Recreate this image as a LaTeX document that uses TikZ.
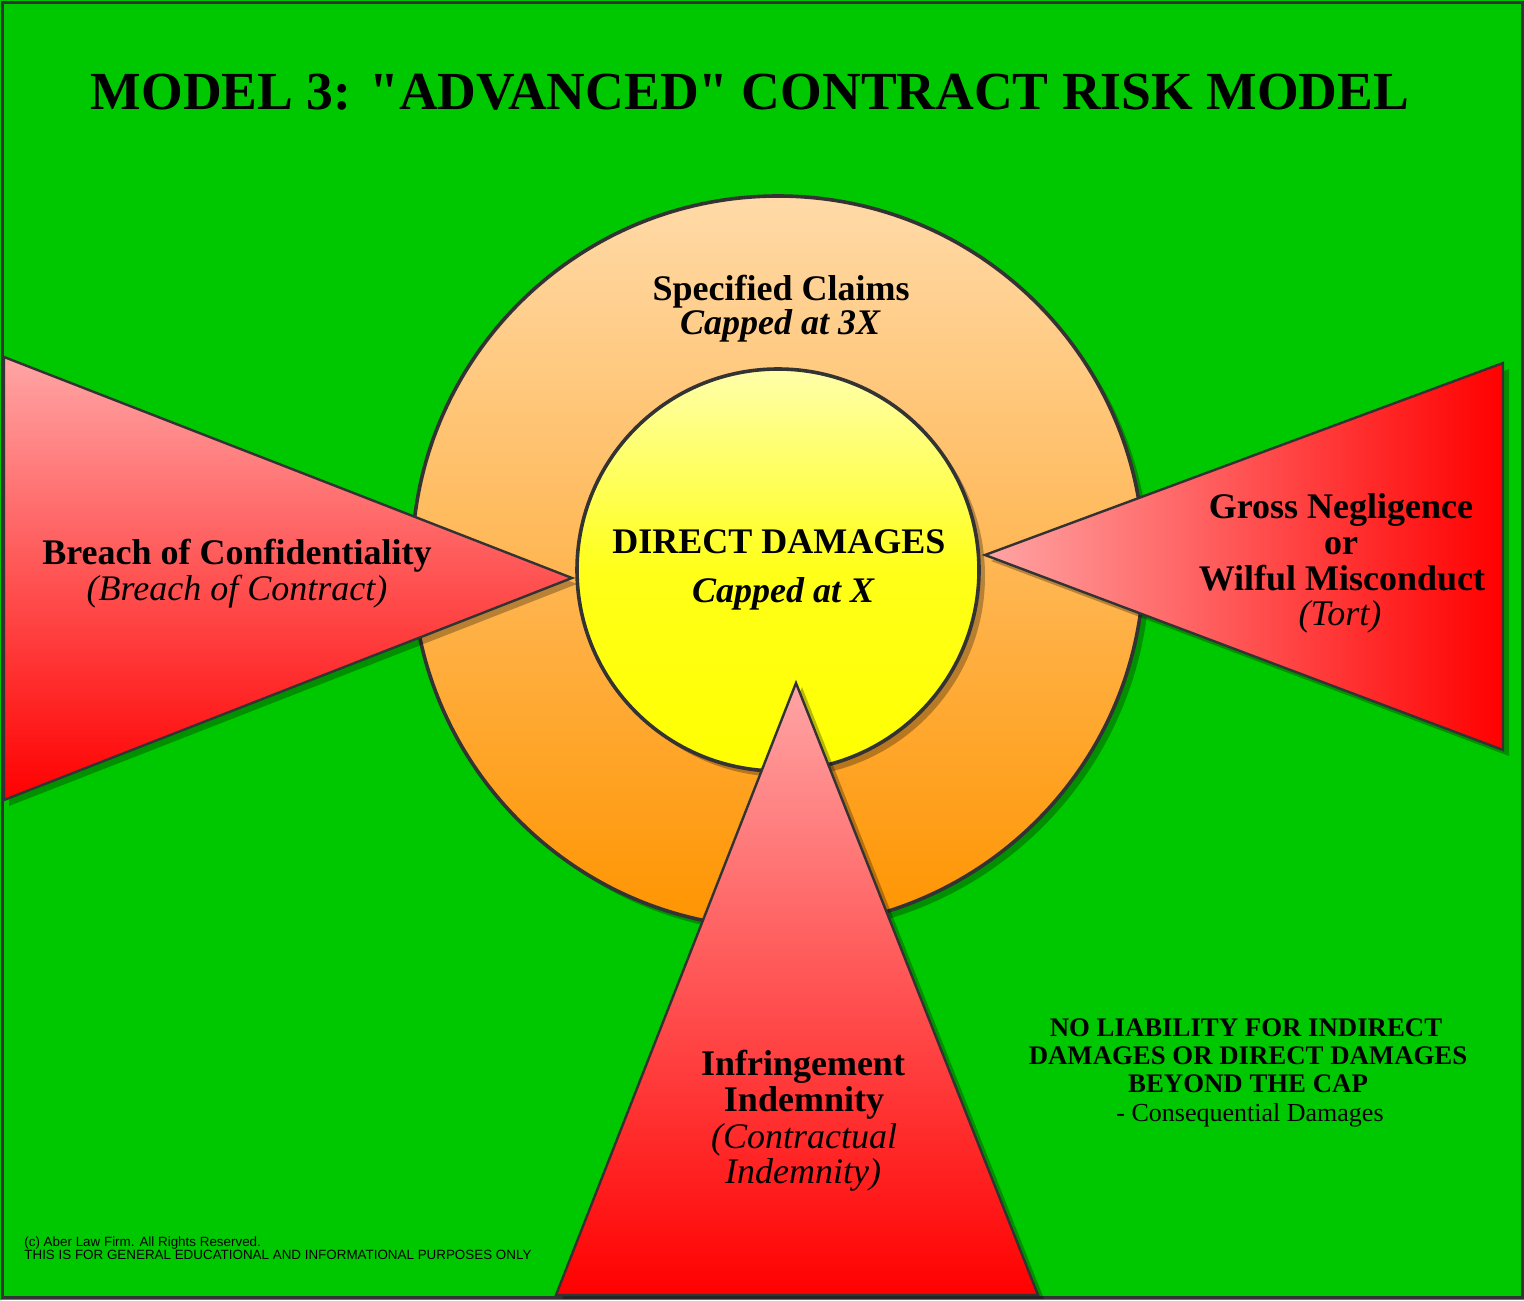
\documentclass[tikz,border=0pt]{standalone}
\usepackage{fontspec}
\setmainfont{Liberation Serif}[Ligatures=TeXOff]
\newfontfamily\sansf{Liberation Sans}
\definecolor{bggreen}{RGB}{0,200,0}
\definecolor{edge}{RGB}{51,51,51}
\definecolor{peach}{RGB}{255,218,168}
\definecolor{orng}{RGB}{255,148,0}
\definecolor{paleyel}{RGB}{255,255,170}
\definecolor{pinkr}{RGB}{255,165,165}
\definecolor{redr}{RGB}{255,0,0}
\begin{document}
\begin{tikzpicture}[x=0.5pt,y=-0.5pt,
  frame/.style={draw=edge, line width=1.5pt},
  ring/.style={draw=edge, line width=1.8pt},
  tri/.style={draw=edge, line width=1.2pt, line join=miter},
  shadowfill/.style={fill=black, opacity=0.28},
  lblb/.style={anchor=base, inner sep=0pt, font=\fontsize{18}{18}\selectfont\bfseries},
  lbli/.style={anchor=base, inner sep=0pt, font=\fontsize{18}{18}\selectfont\itshape},
  lblbi/.style={anchor=base, inner sep=0pt, font=\fontsize{18}{18}\selectfont\bfseries\itshape},
  noteb/.style={anchor=base, inner sep=0pt, font=\fontsize{13.4}{14}\selectfont\bfseries},
  noter/.style={anchor=base, inner sep=0pt, font=\fontsize{13}{14}\selectfont},
  copy/.style={anchor=base west, inner sep=0pt, font=\sansf\fontsize{6.7}{7}\selectfont}
]
\useasboundingbox (0,0) rectangle (1524,1300);
% background
\path[fill=bggreen] (0,0) rectangle (1524,1300);
\draw[frame] (2,3) rectangle (1522,1297);

% centres
\coordinate (oc) at (778,562);
\coordinate (ic) at (778,570);

% outer circle
\fill[shadowfill] ([shift={(6,6)}]oc) circle[radius=183pt];
\draw[ring, top color=peach, bottom color=orng] (oc) circle[radius=183pt];
% inner circle
\fill[shadowfill] ([shift={(6,6)}]ic) circle[radius=100.5pt];
\draw[ring, top color=paleyel, bottom color=yellow, middle color=yellow!85!paleyel] (ic) circle[radius=100.5pt];

% left triangle
\coordinate (l1) at (4,357);
\coordinate (l2) at (4,800);
\coordinate (l3) at (572,578);
\fill[shadowfill] ([shift={(5,6)}]l1) -- ([shift={(5,6)}]l3) -- ([shift={(5,6)}]l2) -- cycle;
\draw[tri, top color=pinkr, bottom color=redr] (l1) -- (l3) -- (l2) -- cycle;

% right triangle
\coordinate (r1) at (1503,363);
\coordinate (r2) at (1503,750);
\coordinate (r3) at (985,555);
\fill[shadowfill] ([shift={(6,6)}]r1) -- ([shift={(6,6)}]r3) -- ([shift={(6,6)}]r2) -- cycle;
\draw[tri, left color=pinkr, right color=redr] (r1) -- (r3) -- (r2) -- cycle;

% bottom triangle
\coordinate (b1) at (796,683);
\coordinate (b2) at (1038,1295);
\coordinate (b3) at (556,1295);
\fill[shadowfill] ([shift={(6,4)}]b1) -- ([shift={(6,4)}]b2) -- ([shift={(6,4)}]b3) -- cycle;
\draw[tri, top color=pinkr, bottom color=redr] (b1) -- (b2) -- (b3) -- cycle;

% title
\node[anchor=base, inner sep=0pt, font=\fontsize{26.8}{30}\selectfont\bfseries] (title) at (750,110) {MODEL 3: "ADVANCED" CONTRACT RISK MODEL};

% labels
\node[lblb] (spec1) at (781,300) {Specified Claims};
\node[lblbi] (spec2) at (780,334) {Capped at 3X};
\node[lblb] (dir1) at (779,553) {DIRECT DAMAGES};
\node[lblbi] (dir2) at (783,602) {Capped at X};
\node[lblb] (bc1) at (237,564) {Breach of Confidentiality};
\node[lbli] (bc2) at (237,600) {(Breach of Contract)};
\node[lblb] (gn1) at (1341,518) {Gross Negligence};
\node[lblb] (gn2) at (1341,554) {or};
\node[lblb] (gn3) at (1342,590) {Wilful Misconduct};
\node[lbli] (gn4) at (1340,625) {(Tort)};
\node[lblb] (ii1) at (803,1075) {Infringement};
\node[lblb] (ii2) at (804,1111) {Indemnity};
\node[lbli] (ii3) at (804,1148) {(Contractual};
\node[lbli] (ii4) at (803,1183) {Indemnity)};

% note
\node[noteb] (n1) at (1246,1036) {NO LIABILITY FOR INDIRECT};
\node[noteb] (n2) at (1248,1064) {DAMAGES OR DIRECT DAMAGES};
\node[noteb] (n3) at (1248,1092) {BEYOND THE CAP};
\node[noter] (n4) at (1250,1121) {- Consequential Damages};

% copyright
\node[copy] (c1) at (24,1246) {(c) Aber Law Firm. All Rights Reserved.};
\node[copy] (c2) at (24,1259) {THIS IS FOR GENERAL EDUCATIONAL AND INFORMATIONAL PURPOSES ONLY};
\end{tikzpicture}
\end{document}
